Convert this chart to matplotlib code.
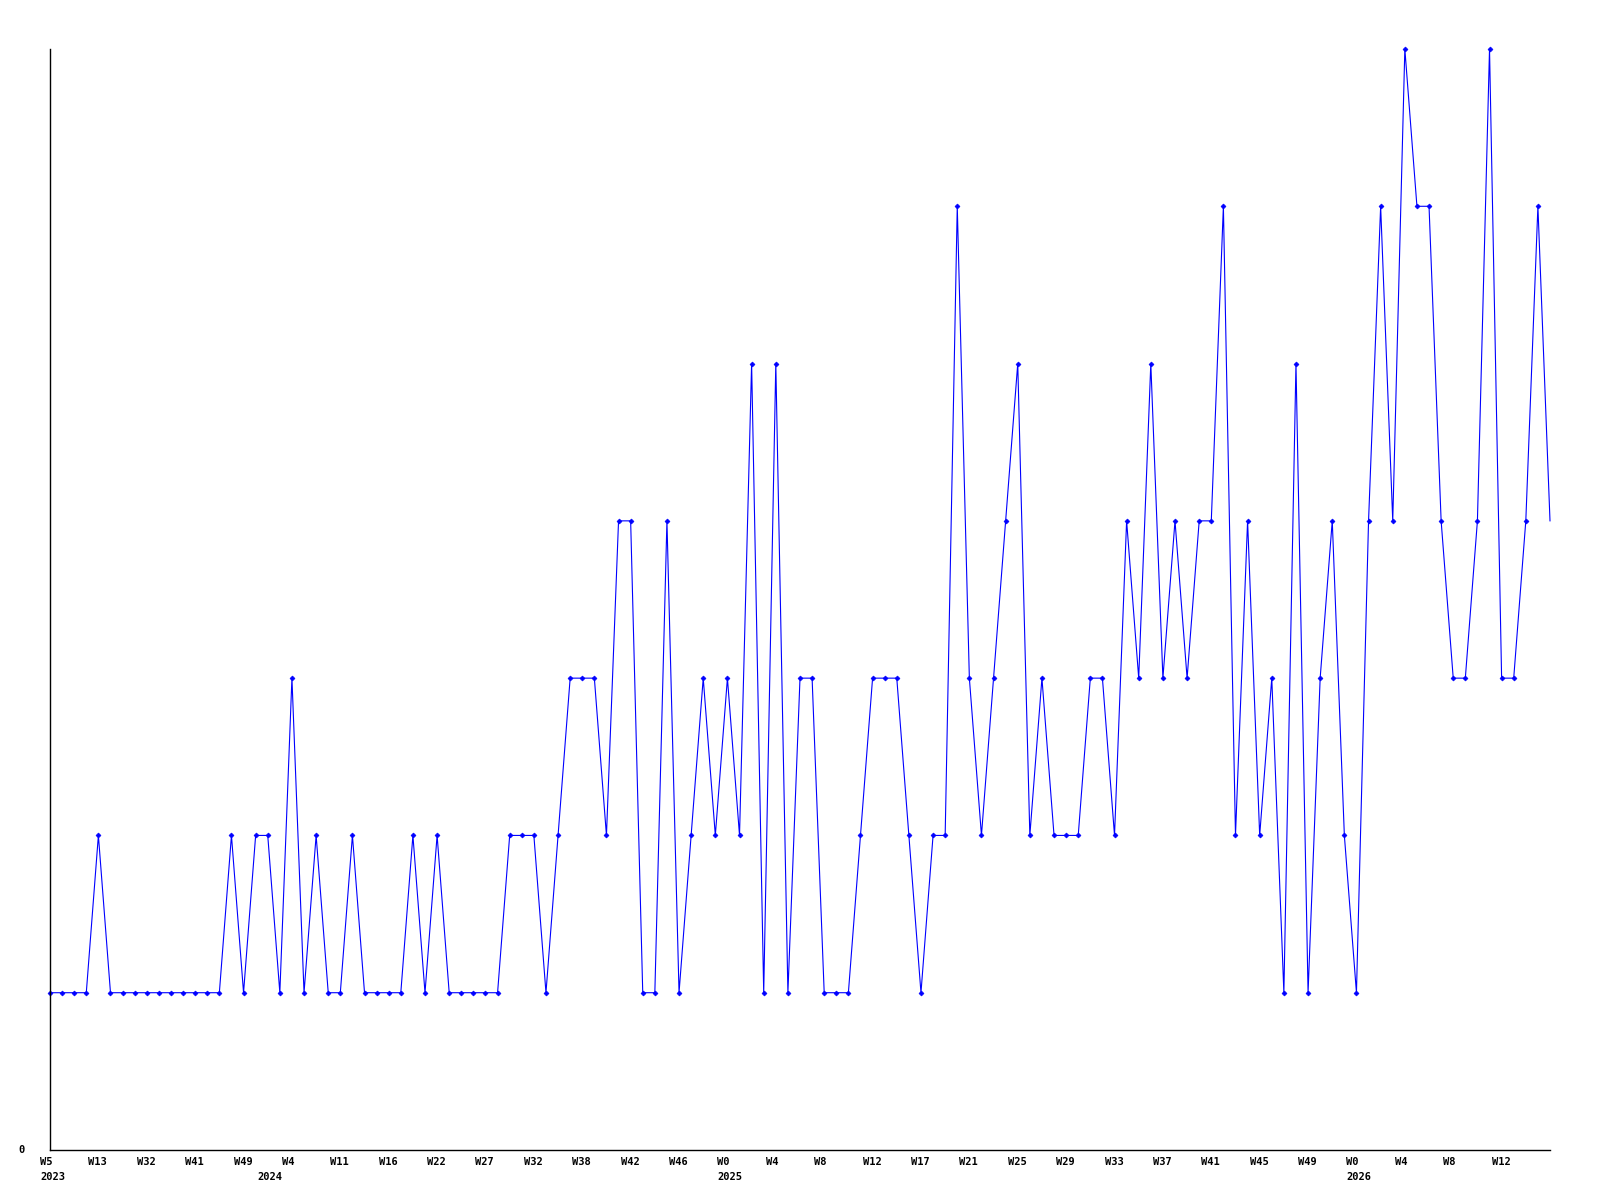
import numpy as np
import matplotlib
matplotlib.use("Agg")
import matplotlib.pyplot as plt

# weekly counts, one per point
values = [1, 1, 1, 1, 2, 1, 1, 1, 1, 1, 1, 1, 1, 1, 1, 2, 1, 2, 2, 1,
          3, 1, 2, 1, 1, 2, 1, 1, 1, 1, 2, 1, 2, 1, 1, 1, 1, 1, 2, 2,
          2, 1, 2, 3, 3, 3, 2, 4, 4, 1, 1, 4, 1, 2, 3, 2, 3, 2, 5, 1,
          5, 1, 3, 3, 1, 1, 1, 2, 3, 3, 3, 2, 1, 2, 2, 6, 3, 2, 3, 4,
          5, 2, 3, 2, 2, 2, 3, 3, 2, 4, 3, 5, 3, 4, 3, 4, 4, 6, 2, 4,
          2, 3, 1, 5, 1, 3, 4, 2, 1, 4, 6, 4, 7, 6, 6, 4, 3, 3, 4, 7,
          3, 3, 4, 6, 4]

# week labels, every 4th point
week_labels = ["W5", "W13", "W32", "W41", "W49", "W4", "W11", "W16", "W22", "W27",
               "W32", "W38", "W42", "W46", "W0", "W4", "W8", "W12", "W17", "W21",
               "W25", "W29", "W33", "W37", "W41", "W45", "W49", "W0", "W4", "W8", "W12"]
label_step = 4

# year labels at the first point of each year
years = ["2023", "2024", "2025", "2026"]
year_idx = [0, 18, 56, 108]

x = np.arange(len(values))

fig = plt.figure(figsize=(16, 12), dpi=100)
ax = fig.add_axes([50 / 1600, 50 / 1200, 1500 / 1600, 1101 / 1200])

ax.plot(x, values, color="#0000ff", linewidth=0.8,
        marker="D", markersize=2.5, markeredgewidth=0.5,
        markevery=slice(0, len(values) - 1), clip_on=False)

ax.set_xlim(0, len(values) - 1)
ax.set_ylim(0, 7)
for side in ["top", "right"]:
    ax.spines[side].set_visible(False)
for side in ["left", "bottom"]:
    ax.spines[side].set_linewidth(1.0)
    ax.spines[side].set_color("black")
ax.set_xticks([])
ax.set_yticks([])

px = 72 / 100  # points per pixel
font = dict(family="DejaVu Sans Mono", fontweight="bold", fontsize=7.5)

for k, lab in enumerate(week_labels):
    ax.annotate(lab, xy=(k * label_step, 0), xytext=(-10 * px, -12 * px),
                textcoords="offset points", ha="left", va="center",
                annotation_clip=False, **font)

for yr, i in zip(years, year_idx):
    ax.annotate(yr, xy=(i, 0), xytext=(-10 * px, -27 * px),
                textcoords="offset points", ha="left", va="center",
                annotation_clip=False, **font)

ax.annotate("0", xy=(0, 0), xytext=(-25 * px, 0),
            textcoords="offset points", ha="right", va="center",
            annotation_clip=False, **font)

fig.savefig("out.png", dpi=100)
